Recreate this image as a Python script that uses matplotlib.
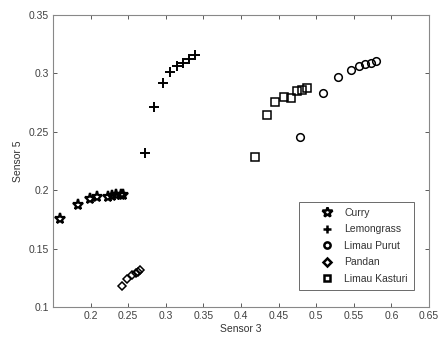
import matplotlib
matplotlib.use('Agg')
import matplotlib.pyplot as plt
from matplotlib.lines import Line2D

plt.rcParams['font.family'] = ['Liberation Sans', 'DejaVu Sans']

curry_x = [0.159, 0.183, 0.199, 0.208, 0.223, 0.228, 0.234, 0.240, 0.243]
curry_y = [0.175, 0.187, 0.1925, 0.194, 0.1945, 0.195, 0.1955, 0.196, 0.196]

lemon_x = [0.272, 0.284, 0.296, 0.306, 0.315, 0.323, 0.331, 0.339]
lemon_y = [0.2316, 0.271, 0.2918, 0.3015, 0.3063, 0.3092, 0.312, 0.3158]

purut_x = [0.4785, 0.5094, 0.5293, 0.5461, 0.5572, 0.5651, 0.573, 0.579]
purut_y = [0.2458, 0.2832, 0.2972, 0.3029, 0.3063, 0.308, 0.3092, 0.3106]

pandan_x = [0.2411, 0.2486, 0.2557, 0.260, 0.2632, 0.2663]
pandan_y = [0.1177, 0.1242, 0.1271, 0.1289, 0.1302, 0.1317]

kasturi_x = [0.4192, 0.4347, 0.4458, 0.4577, 0.4666, 0.474, 0.4812, 0.4873]
kasturi_y = [0.2287, 0.2641, 0.2753, 0.2801, 0.2787, 0.2849, 0.2858, 0.2872]

labels = ['Curry', 'Lemongrass', 'Limau Purut', 'Pandan', 'Limau Kasturi']
markers = ['*', '+', 'o', 'D', 's']

fig = plt.figure(figsize=(4.4, 3.41), dpi=100)
ax = fig.add_axes([53 / 440, 1 - 307 / 341, 376 / 440, 292 / 341])

ax.plot(curry_x, curry_y, linestyle='none', marker='*', ms=8, mfc='none', mec='k', mew=1.6)
ax.plot(lemon_x, lemon_y, linestyle='none', marker='+', ms=6.5, mec='k', mew=1.4)
ax.plot(purut_x, purut_y, linestyle='none', marker='o', ms=5.5, mfc='none', mec='k', mew=1.1)
ax.plot(pandan_x, pandan_y, linestyle='none', marker='D', ms=4.5, mfc='none', mec='k', mew=1.1)
ax.plot(kasturi_x, kasturi_y, linestyle='none', marker='s', ms=5.5, mfc='none', mec='k', mew=1.1)

ax.set_xlim(0.15, 0.65)
ax.set_ylim(0.1, 0.35)
ax.set_xticks([0.2, 0.25, 0.3, 0.35, 0.4, 0.45, 0.5, 0.55, 0.6, 0.65])
ax.set_xticklabels(['0.2', '0.25', '0.3', '0.35', '0.4', '0.45', '0.5', '0.55', '0.6', '0.65'])
ax.set_yticks([0.1, 0.15, 0.2, 0.25, 0.3, 0.35])
ax.set_yticklabels(['0.1', '0.15', '0.2', '0.25', '0.3', '0.35'])
ax.tick_params(direction='in', top=True, right=True, length=3, width=0.6,
               labelsize=7.5, colors='#404040', pad=3)
for s in ax.spines.values():
    s.set_color('#888888')
    s.set_linewidth(0.8)

ax.set_xlabel('Sensor 3', fontsize=7.5, color='#333333', labelpad=2)
ax.set_ylabel('Sensor 5', fontsize=7.5, color='#333333', labelpad=4)

# legend proxies, markers drawn bolder like the original
proxies = []
for m in markers:
    sz = 7 if m == '*' else (6 if m == '+' else 4.5)
    if m == 'D':
        sz = 4
    proxies.append(Line2D([], [], linestyle='none', marker=m, ms=sz, mfc='none', mec='k', mew=1.8))

leg = ax.legend(proxies, labels, loc='lower right', bbox_to_anchor=(0.960, 0.058), fontsize=7.5,
                frameon=True, fancybox=False, edgecolor='#444444', handlelength=4.0,
                handletextpad=-0.3, borderpad=0.6, labelspacing=0.62, borderaxespad=0)
leg.get_frame().set_linewidth(0.7)
for t in leg.get_texts():
    t.set_color('#333333')

fig.savefig('out.png', dpi=100)
